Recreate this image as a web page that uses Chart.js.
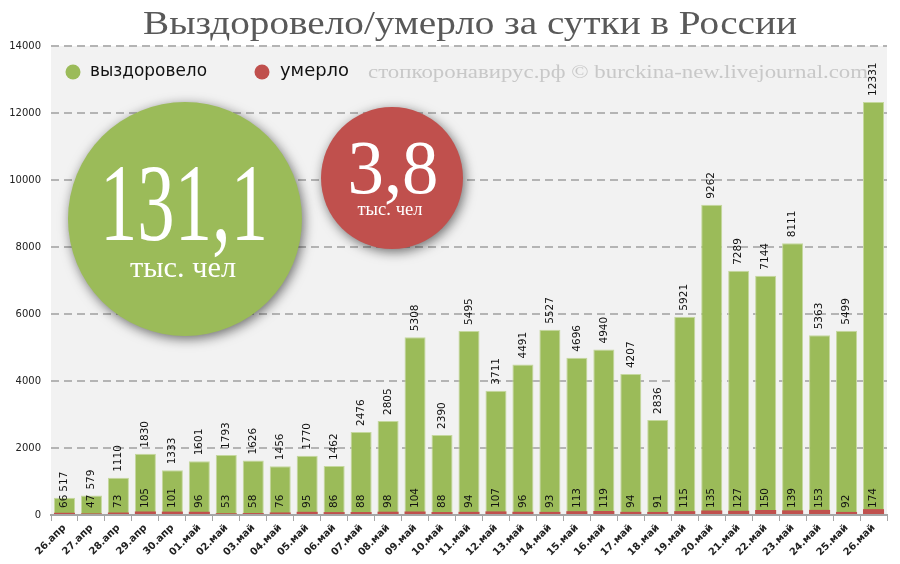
<!DOCTYPE html>
<html>
<head>
<meta charset="utf-8">
<script src="https://cdn.jsdelivr.net/npm/chart.js@4.4.0/dist/chart.umd.min.js"></script>
<style>
  html, body { margin: 0; padding: 0; background: #fff; }
  #wrap { width: 900px; height: 564px; }
</style>
</head>
<body>
<div id="wrap"><canvas id="chart" width="900" height="564"></canvas></div>
<script>
// данные за сутки
const dates = ['26.апр', '27.апр', '28.апр', '29.апр', '30.апр',
  '01.май', '02.май', '03.май', '04.май', '05.май', '06.май', '07.май', '08.май', '09.май', '10.май',
  '11.май', '12.май', '13.май', '14.май', '15.май', '16.май', '17.май', '18.май', '19.май', '20.май',
  '21.май', '22.май', '23.май', '24.май', '25.май', '26.май'];
const recovered = [517, 579, 1110, 1830, 1333, 1601, 1793, 1626, 1456, 1770, 1462, 2476, 2805, 5308, 2390,
  5495, 3711, 4491, 5527, 4696, 4940, 4207, 2836, 5921, 9262, 7289, 7144, 8111, 5363, 5499, 12331];
const died = [66, 47, 73, 105, 101, 96, 53, 58, 76, 95, 86, 88, 98, 104, 88,
  94, 107, 96, 93, 113, 119, 94, 91, 115, 135, 127, 150, 139, 153, 92, 174];
const yTicks = [0, 2000, 4000, 6000, 8000, 10000, 12000, 14000];

const totalRecovered = '131,1';
const totalDied = '3,8';
const unit = 'тыс. чел';
const title = 'Выздоровело/умерло за сутки в России';
const watermark = 'стопкоронавирус.рф © burckina-new.livejournal.com';

const GREEN = '#9bbb59';
const RED = '#c0504d';

// text squeezed to a given width
function fitText(ctx, text, x, y, font, width, align) {
  ctx.font = font;
  const w = ctx.measureText(text).width;
  ctx.save();
  ctx.translate(x, y);
  ctx.scale(width / w, 1);
  ctx.textAlign = align || 'center';
  ctx.fillText(text, 0, 0);
  ctx.restore();
}

function vText(ctx, text, x, y) {
  ctx.save();
  ctx.translate(x, y);
  ctx.rotate(-Math.PI / 2);
  ctx.textAlign = 'left';
  ctx.textBaseline = 'middle';
  ctx.fillText(text, 0, 0);
  ctx.restore();
}

function bubble(ctx, cx, cy, r, color) {
  ctx.save();
  ctx.shadowColor = 'rgba(0,0,0,0.55)';
  ctx.shadowBlur = 12;
  ctx.shadowOffsetX = 2;
  ctx.shadowOffsetY = 3;
  ctx.fillStyle = color;
  ctx.beginPath();
  ctx.arc(cx, cy, r, 0, Math.PI * 2);
  ctx.fill();
  ctx.restore();
}

const decor = {
  id: 'decor',
  beforeDraw(chart) {
    const { ctx, chartArea: a } = chart;
    ctx.save();
    ctx.fillStyle = '#fff';
    ctx.fillRect(0, 0, chart.width, chart.height);
    ctx.fillStyle = '#f2f2f2';
    ctx.fillRect(a.left, a.top, a.right - a.left, a.bottom - a.top);
    ctx.restore();
  },
  afterDatasetsDraw(chart) {
    const ctx = chart.ctx;
    const y0 = chart.scales.y.getPixelForValue(0);
    ctx.save();
    ctx.fillStyle = '#111';
    ctx.font = '10.5px "DejaVu Sans"';
    chart.getDatasetMeta(1).data.forEach((bar, i) => vText(ctx, String(recovered[i]), bar.x, bar.y - 6));
    chart.getDatasetMeta(0).data.forEach((bar, i) => vText(ctx, String(died[i]), bar.x, y0 - 7));
    ctx.restore();

    // круги с итогами
    bubble(ctx, 185, 219, 117, GREEN);
    bubble(ctx, 392, 178, 71, RED);
    ctx.save();
    ctx.fillStyle = '#fff';
    ctx.textBaseline = 'alphabetic';
    fitText(ctx, totalRecovered, 184, 240, '110px "Liberation Serif"', 168);
    fitText(ctx, unit, 183, 277, '30px "Liberation Serif"', 106);
    fitText(ctx, totalDied, 393, 193, '77px "Liberation Serif"', 91);
    fitText(ctx, unit, 390, 215, '19px "Liberation Serif"', 65);
    ctx.restore();
  },
  afterDraw(chart) {
    const ctx = chart.ctx;
    ctx.save();
    ctx.textBaseline = 'alphabetic';
    ctx.fillStyle = '#595959';
    fitText(ctx, title, 470, 34, '34px "Liberation Serif"', 654);

    // легенда
    ctx.fillStyle = GREEN;
    ctx.beginPath(); ctx.arc(73, 72, 7.5, 0, Math.PI * 2); ctx.fill();
    ctx.fillStyle = RED;
    ctx.beginPath(); ctx.arc(262, 72, 7.5, 0, Math.PI * 2); ctx.fill();
    ctx.fillStyle = '#111';
    ctx.textBaseline = 'middle';
    fitText(ctx, chart.data.datasets[1].label, 90, 72, '17px "DejaVu Sans"', 117, 'left');
    fitText(ctx, chart.data.datasets[0].label, 280, 72, '17px "DejaVu Sans"', 69, 'left');

    ctx.fillStyle = '#c8c8c8';
    fitText(ctx, watermark, 368, 73, '19px "Liberation Serif"', 500, 'left');
    ctx.restore();
  }
};

new Chart(document.getElementById('chart'), {
  type: 'bar',
  data: {
    labels: dates,
    datasets: [
      { label: 'умерло', data: died, backgroundColor: RED, grouped: false,
        barPercentage: 0.78, categoryPercentage: 1 },
      { label: 'выздоровело', data: recovered, backgroundColor: GREEN, borderColor: '#c5d89e',
        borderWidth: 1, borderSkipped: 'bottom', grouped: false, barPercentage: 0.78, categoryPercentage: 1 }
    ]
  },
  options: {
    responsive: false,
    animation: false,
    devicePixelRatio: 1,
    layout: { padding: { left: 0, right: 13, top: 46, bottom: 0 } },
    plugins: { legend: { display: false }, tooltip: { enabled: false }, title: { display: false } },
    scales: {
      x: {
        grid: { display: true, drawOnChartArea: false, drawTicks: true, tickLength: 6, color: '#a6a6a6', offset: true },
        border: { display: true, color: '#a6a6a6', width: 2 },
        ticks: {
          autoSkip: false, maxRotation: 45, minRotation: 45, padding: 1, color: '#222',
          font: { family: 'DejaVu Sans', size: 10, weight: 'bold' }
        },
        afterFit(s) { s.height = 49; }
      },
      y: {
        min: 0,
        max: 14000,
        afterBuildTicks(s) { s.ticks = yTicks.map(v => ({ value: v })); },
        ticks: { padding: 10, color: '#222', font: { family: 'DejaVu Sans', size: 10 }, callback: v => String(v) },
        grid: { color: '#b4b4b4', lineWidth: 2, drawTicks: false },
        border: { display: false, dash: [8, 5] },
        afterFit(s) { s.width = 51; }
      }
    }
  },
  plugins: [decor]
});
</script>
</body>
</html>
